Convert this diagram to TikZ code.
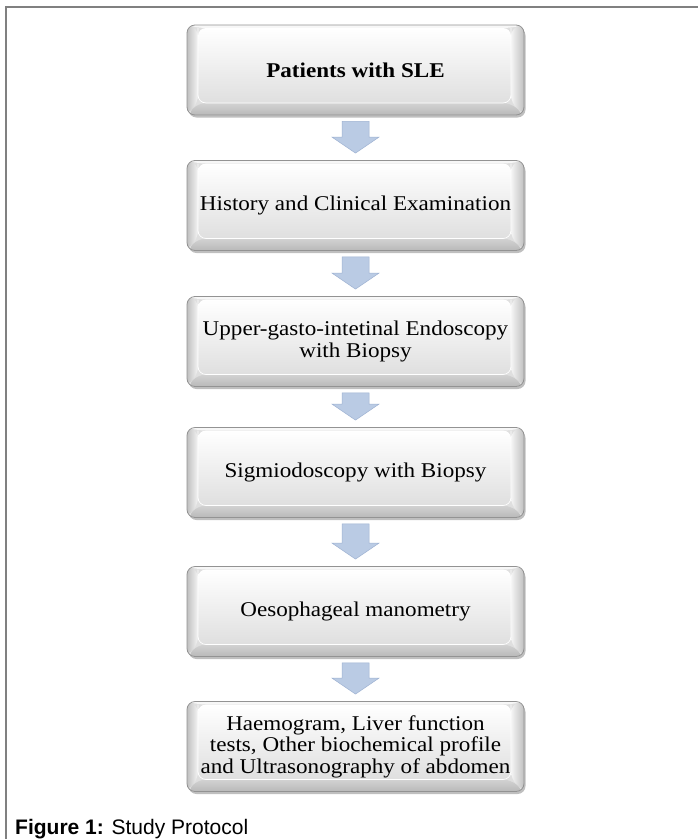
\documentclass[tikz,border=0pt]{standalone}
\usepackage{fontspec}
\setmainfont{Liberation Serif}[FakeStretch=1.1]
\newfontfamily\capfont{Liberation Sans}
\usetikzlibrary{calc,shadows}
\definecolor{arrfill}{RGB}{186,203,228}
\definecolor{arrline}{RGB}{158,178,210}
\definecolor{framecol}{RGB}{128,128,128}
\tikzset{
  bevbox/.style={rectangle, rounded corners=8pt, minimum width=337pt, minimum height=90pt,
    inner sep=0pt, align=center, font=\fontsize{21}{21.5}\selectfont,
    draw=gray!85, line width=0.8pt, fill=gray!25,
    drop shadow={shadow xshift=1.5pt, shadow yshift=-2.5pt, opacity=0.25, fill=black},
    path picture={
      \coordinate (pNW) at (path picture bounding box.north west);
      \coordinate (pNE) at (path picture bounding box.north east);
      \coordinate (pSW) at (path picture bounding box.south west);
      \coordinate (pSE) at (path picture bounding box.south east);
      \coordinate (pA) at ([xshift=11pt,yshift=-3pt]pNW);
      \coordinate (pB) at ([xshift=-13pt,yshift=-3pt]pNE);
      \coordinate (pC) at ([xshift=-13pt,yshift=12pt]pSE);
      \coordinate (pD) at ([xshift=11pt,yshift=12pt]pSW);
      \fill[gray!6] (pNW) -- (pNE) -- (pB) -- (pA) -- cycle;
      \fill[left color=gray!50, right color=gray!8] (pNW) -- (pA) -- (pD) -- (pSW) -- cycle;
      \fill[left color=gray!8, right color=gray!50] (pNE) -- (pB) -- (pC) -- (pSE) -- cycle;
      \fill[top color=gray!35, bottom color=gray!55] (pSW) -- (pD) -- (pC) -- (pSE) -- cycle;
      \fill[top color=white, bottom color=gray!25] (pA) -- (pB) -- (pC) -- (pD) -- cycle;
      \draw[white, line width=0.7pt] (pA) -- (pD) -- (pC) -- (pB);
    }},
  arrowshape/.style={fill=arrfill, draw=arrline, line width=0.5pt, line join=miter}
}
\newcommand\flowarrow[2]{%
  \path let \p1=(#1.south), \p2=(#2.north) in
    [arrowshape] (\x1-13.5pt,\y1-6pt) -- (\x1+13.5pt,\y1-6pt) -- (\x1+13.5pt,\y2+23pt)
    -- (\x1+23.5pt,\y2+23pt) -- (\x2,\y2+7pt) -- (\x1-23.5pt,\y2+23pt)
    -- (\x1-13.5pt,\y2+23pt) -- cycle;}
\begin{document}
\begin{tikzpicture}[x=1pt,y=-1pt]
\useasboundingbox[fill=white] (0,0) rectangle (698,839);
\draw[framecol, line width=1.5pt] (6,839) -- (6,7) -- (698,7);

\node[bevbox] (b1) at (355.5,70) {\textbf{Patients with SLE}};
\node[bevbox] (b2) at (355.5,205.5) {History and Clinical Examination};
\node[bevbox] (b3) at (355.5,341.5) {Upper-gasto-intetinal Endoscopy\\with Biopsy};
\node[bevbox] (b4) at (355.5,472.5) {Sigmiodoscopy with Biopsy};
\node[bevbox] (b5) at (355.5,611.5) {Oesophageal manometry};
\node[bevbox] (b6) at (355.5,746.5) {Haemogram, Liver function\\tests, Other biochemical profile\\and Ultrasonography of abdomen};

\flowarrow{b1}{b2}
\flowarrow{b2}{b3}
\flowarrow{b3}{b4}
\flowarrow{b4}{b5}
\flowarrow{b5}{b6}

\node[anchor=base west, inner sep=0pt, font=\capfont\fontsize{21}{24}\selectfont] (cap) at (15,834) {\textbf{Figure 1:} Study Protocol};
\end{tikzpicture}
\end{document}
